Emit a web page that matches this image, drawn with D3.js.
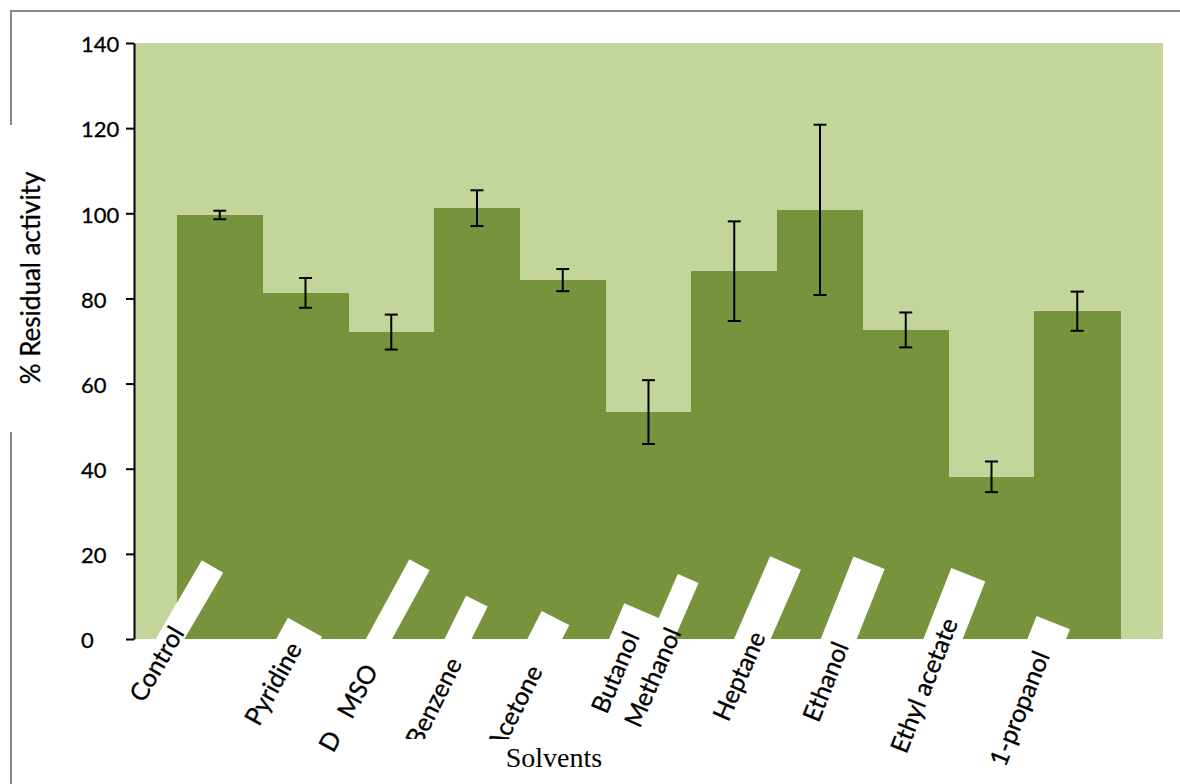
<!DOCTYPE html>
<html>
<head>
<meta charset="utf-8">
<script src="https://cdn.jsdelivr.net/npm/d3@7"></script>
<style>
  html, body { margin: 0; padding: 0; background: #fff; }
  svg { display: block; font-family: Lato, "Open Sans", sans-serif; }
  .sans { stroke: #000; stroke-width: 0.3px; paint-order: stroke; }
</style>
</head>
<body>
<svg id="chart" width="1180" height="784"></svg>
<script>
// Residual enzyme activity after solvent exposure
const categories = ["Control", "Pyridine", "D   MSO", "Benzene", "Acetone", "Butanol",
                    "Methanol", "Heptane", "Ethanol", "Ethyl acetate", "1-propanol"];
const activity = [99.6, 81.3, 72.1, 101.2, 84.3, 53.3, 86.4, 100.8, 72.6, 38.1, 77.0];
const errors   = [1.0, 3.5, 4.1, 4.2, 2.6, 7.5, 11.7, 20.0, 4.1, 3.6, 4.6];
const yTicks   = [0, 20, 40, 60, 80, 100, 120, 140];

// Category label placement: rotation angle, white backing strip
// (offset from band centre, strip width, reach above the axis) and text end point.
const labelLayout = [
  { angle: 59.6, off: -49.75, w: 24.7, top: 84,   tx: -34.8, ty: -6   },
  { angle: 61.0, off: -7.0,   w: 39,   top: 13.4, tx: -2.8,  ty: 9.5  },
  { angle: 61.4, off: -12.25, w: 23,   top: 84.6, tx: -12.4, ty: 31.3 },
  { angle: 63.5, off: -19.0,  w: 24.2, top: 42.3, tx: -14.3, ty: 24.3 },
  { angle: 63.0, off: -18.0,  w: 31,   top: 23.6, tx: -19.5, ty: 32.0 },
  { angle: 67.0, off: -17.7,  w: 40,   top: 30.3, tx: -8.5,  ty: -2.6 },
  { angle: 66.5, off: -72.4,  w: 22.6, top: 66,   tx: -52.6, ty: -6.5 },
  { angle: 66.4, off: -67.7,  w: 33.6, top: 83,   tx: -54.0, ty: -2.7 },
  { angle: 68.3, off: -67.0,  w: 33.5, top: 82,   tx: -56.5, ty: 7.2  },
  { angle: 68.5, off: -48.5,  w: 36.5, top: 69,   tx: -33.2, ty: -16.5 },
  { angle: 68.2, off: -30.5,  w: 36,   top: 17.6, tx: -27.0, ty: 16.5 }
];

const svg = d3.select("#chart");
const plot = { left: 134, right: 1163, top: 43, bottom: 639 };

const x = d3.scaleBand()
  .domain(categories)
  .range([plot.left, plot.right])
  .paddingInner(0)
  .paddingOuter(0.5);

const y = d3.scaleLinear()
  .domain([0, 140])
  .range([plot.bottom, plot.top]);

// plot background
svg.append("rect")
  .attr("x", plot.left).attr("y", y(140))
  .attr("width", plot.right - plot.left)
  .attr("height", y(0) - y(140))
  .attr("fill", "#c3d59b");

// bars
svg.append("g")
  .attr("shape-rendering", "crispEdges")
  .selectAll("rect")
  .data(categories)
  .join("rect")
  .attr("x", d => x(d))
  .attr("y", (d, i) => y(activity[i]))
  .attr("width", x.bandwidth() + 0.6)
  .attr("height", (d, i) => y(0) - y(activity[i]))
  .attr("fill", "#77933c");

// white label strips rising into the plot
svg.append("g")
  .selectAll("rect")
  .data(categories)
  .join("rect")
  .attr("transform", (d, i) => {
    const L = labelLayout[i];
    return `translate(${x(d) + x.bandwidth() / 2 + L.off},${y(0)}) rotate(${-L.angle})`;
  })
  .attr("x", -40)
  .attr("y", (d, i) => -labelLayout[i].w / 2)
  .attr("width", (d, i) => labelLayout[i].top + 40)
  .attr("height", (d, i) => labelLayout[i].w)
  .attr("fill", "#fff");

// error bars
const eb = svg.append("g")
  .attr("stroke", "#000")
  .attr("stroke-width", 2)
  .selectAll("g")
  .data(categories)
  .join("g")
  .attr("transform", d => `translate(${x(d) + x.bandwidth() / 2},0)`);
eb.append("line")
  .attr("y1", (d, i) => y(activity[i] + errors[i]))
  .attr("y2", (d, i) => y(activity[i] - errors[i]));
eb.append("line")
  .attr("x1", -6.5).attr("x2", 6.5)
  .attr("y1", (d, i) => y(activity[i] + errors[i]))
  .attr("y2", (d, i) => y(activity[i] + errors[i]));
eb.append("line")
  .attr("x1", -6.5).attr("x2", 6.5)
  .attr("y1", (d, i) => y(activity[i] - errors[i]))
  .attr("y2", (d, i) => y(activity[i] - errors[i]));

// y axis
const yAxis = svg.append("g")
  .attr("transform", `translate(${plot.left},0)`)
  .call(d3.axisLeft(y).tickValues(yTicks).tickSize(8).tickSizeOuter(0).tickFormat(d3.format("d")));
yAxis.select(".domain").attr("stroke", "#000").attr("stroke-width", 2);
yAxis.selectAll(".tick line").attr("stroke", "#000").attr("stroke-width", 2);
yAxis.selectAll(".tick text")
  .attr("class", "sans")
  .attr("x", -53)
  .attr("dy", "0.4em")
  .attr("text-anchor", "start")
  .attr("fill", "#000")
  .style("font-family", "Lato, sans-serif")
  .style("font-size", "22px");

// category labels
svg.append("g")
  .selectAll("text")
  .data(categories)
  .join("text")
  .attr("class", "sans")
  .attr("transform", (d, i) => {
    const L = labelLayout[i];
    return `translate(${x(d) + x.bandwidth() / 2 + L.tx},${y(0) + L.ty}) rotate(${-L.angle})`;
  })
  .attr("text-anchor", "end")
  .attr("fill", "#000")
  .style("font-size", "25px")
  .style("white-space", "pre")
  .text(d => d);

// x axis title on its own white box
svg.append("rect")
  .attr("x", 395).attr("y", 739)
  .attr("width", 325).attr("height", 45)
  .attr("fill", "#fff");
svg.append("text")
  .attr("x", 554).attr("y", 767)
  .attr("text-anchor", "middle")
  .style("font-family", "'Liberation Serif', 'Times New Roman', serif")
  .style("font-size", "28px")
  .attr("fill", "#000")
  .text("Solvents");

// outer frame
svg.append("path")
  .attr("d", "M11,784V11H1180")
  .attr("fill", "none")
  .attr("stroke", "#878787")
  .attr("stroke-width", 2);

// y axis title on its own white box
svg.append("rect")
  .attr("x", 4).attr("y", 125)
  .attr("width", 50).attr("height", 307)
  .attr("fill", "#fff");
svg.append("text")
  .attr("class", "sans")
  .attr("transform", "translate(40,278) rotate(-90)")
  .attr("text-anchor", "middle")
  .style("font-size", "26px")
  .attr("fill", "#000")
  .text("% Residual activity");
</script>
</body>
</html>
